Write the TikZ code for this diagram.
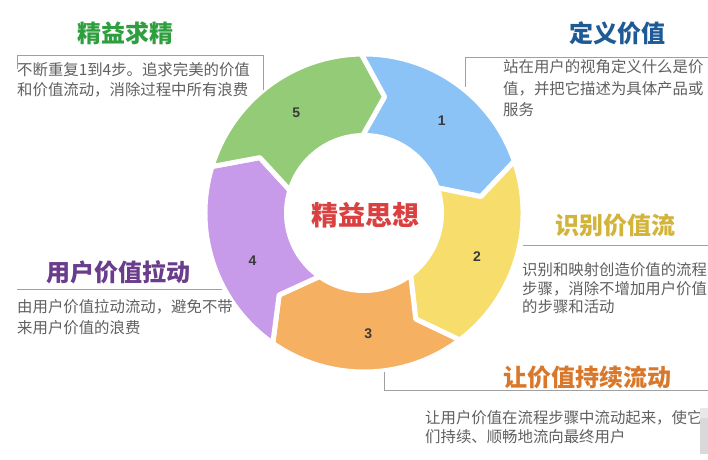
\documentclass[tikz,border=0pt]{standalone}
\usepackage{fontspec}
\setmainfont{Noto Sans CJK SC}
\newfontfamily\numfont{Liberation Sans}
\definecolor{segblue}{HTML}{8CC3F6}
\definecolor{segyellow}{HTML}{F6DD6C}
\definecolor{segorange}{HTML}{F6B062}
\definecolor{segpurple}{HTML}{C89AEA}
\definecolor{seggreen}{HTML}{94CB76}
\definecolor{tgreen}{HTML}{2E9E3E}
\definecolor{tblue}{HTML}{1D5A96}
\definecolor{tyellow}{HTML}{D2B43A}
\definecolor{tpurple}{HTML}{6A3D8C}
\definecolor{torange}{HTML}{D9782A}
\definecolor{tred}{HTML}{D9403F}
\definecolor{bodygray}{HTML}{606060}
\definecolor{rulegray}{HTML}{A0A0A0}
\definecolor{numgray}{HTML}{3A3A3A}
\tikzset{
  titletxt/.style={inner sep=0pt, font=\fontsize{24}{28}\selectfont\bfseries},
  bodytxt/.style={inner sep=0pt, anchor=west, align=left, text=bodygray},
  rulestyle/.style={draw=rulegray, line width=1pt},
  numtxt/.style={inner sep=0pt, text=numgray, font=\numfont\fontsize{14}{16}\selectfont\bfseries},
  segstyle/.style={draw=white, line width=5pt, line join=round}
}
\begin{document}
\begin{tikzpicture}[x=1pt,y=1pt]
\useasboundingbox (0,0) rectangle (708,459);
\fill[white] (0,0) rectangle (708,459);

% ring segments
\begin{scope}[shift={(364,246)}]
\foreach \k/\col in {1/segblue,2/segyellow,3/segorange,4/segpurple,5/seggreen} {
  \pgfmathsetmacro\s{91-72*(\k-1)}
  \pgfmathsetmacro\e{\s-72}
  \pgfmathsetmacro\et{\e-11}
  \pgfmathsetmacro\st{\s-11}
  \filldraw[segstyle, fill=\col]
    (\s:159) arc[start angle=\s, end angle=\e, radius=159]
    -- (\et:118) -- (\e:77.5)
    arc[start angle=\e, end angle=\s, radius=77.5]
    -- (\st:118) -- cycle;
}
\node[numtxt] (n1) at (50:121) {1};
\node[numtxt] (n2) at (-21:121) {2};
\node[numtxt] (n3) at (-88:121) {3};
\node[numtxt] (n4) at (203:121) {4};
\node[numtxt] (n5) at (124:121) {5};
\node[inner sep=0pt, text=tred, font=\fontsize{27}{30}\selectfont\bfseries] (center) at (1,-2) {精益思想};
\end{scope}

% titles
\node[titletxt, text=tgreen] (t5) at (125,426) {精益求精};
\node[titletxt, text=tblue] (t1) at (617,426) {定义价值};
\node[titletxt, text=tyellow] (t2) at (615,234) {识别价值流};
\node[titletxt, text=tpurple] (t4) at (118,187) {用户价值拉动};
\node[titletxt, text=torange] (t3) at (587,82) {让价值持续流动};

% rules
\draw[rulestyle] (17,390) -- (17,404) -- (263,404) -- (263,369);
\draw[rulestyle] (465,372) -- (465,402) -- (708,402);
\draw[rulestyle] (523,214) -- (708,214);
\draw[rulestyle] (17,170) -- (222,170);
\draw[rulestyle] (384,87) -- (384,69) -- (708,69);

% bodies
\node[bodytxt, font=\fontsize{15.4}{20}\selectfont] (b5) at (17,379) {不断重复1到4步。追求完美的价值\\和价值流动，消除过程中所有浪费};
\node[bodytxt, font=\fontsize{15.4}{21.5}\selectfont] (b1) at (503,370.5) {站在用户的视角定义什么是价\\值，并把它描述为具体产品或\\服务};
\node[bodytxt, font=\fontsize{15.4}{18.5}\selectfont] (b2) at (522,170.5) {识别和映射创造价值的流程\\步骤，消除不增加用户价值\\的步骤和活动};
\node[bodytxt, font=\fontsize{15.4}{21}\selectfont] (b4) at (17,141.5) {由用户价值拉动流动，避免不带\\来用户价值的浪费};
\node[bodytxt, font=\fontsize{15.4}{19}\selectfont] (b3) at (425,31.5) {让用户价值在流程步骤中流动起来，使它\\们持续、顺畅地流向最终用户};

% small grey mark at the lower right edge
\fill[gray!18] (700,41) rectangle (708,51);
\fill[gray!30] (700,5) rectangle (708,41);
\end{tikzpicture}
\end{document}
